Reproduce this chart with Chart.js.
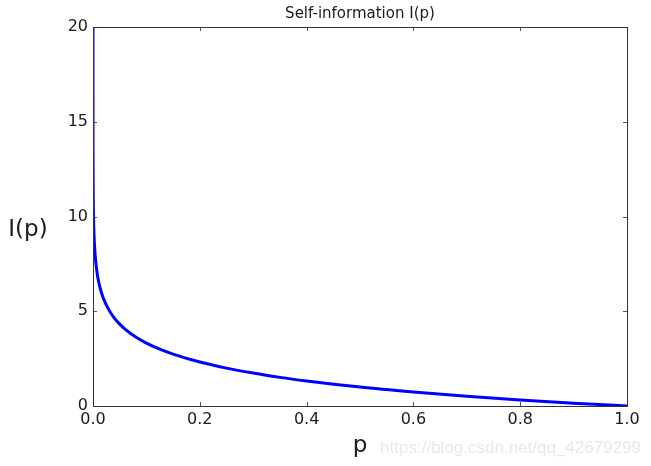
<!DOCTYPE html>
<html>
<head>
<meta charset="utf-8">
<script src="https://cdn.jsdelivr.net/npm/chart.js@4/dist/chart.umd.min.js"></script>
<style>
  html, body { margin: 0; padding: 0; background: #fff; }
  #wrap { width: 651px; height: 466px; }
</style>
</head>
<body>
<div id="wrap"><canvas id="chart" width="651" height="466"></canvas></div>
<script>
// ── Data ──
const pValues = [0.00000095, 0.00001, 0.0001, 0.0005, 0.001, 0.002, 0.003, 0.005, 0.0075, 0.01,
  0.015, 0.02, 0.03, 0.04, 0.05, 0.06, 0.08, 0.1, 0.125, 0.15, 0.2, 0.25, 0.3, 0.35, 0.4,
  0.5, 0.6, 0.7, 0.8, 0.9, 1.0];
const infoValues = [20.0, 16.6, 13.3, 10.97, 9.97, 8.97, 8.38, 7.64, 7.06, 6.64,
  6.06, 5.64, 5.06, 4.64, 4.32, 4.06, 3.64, 3.32, 3.0, 2.74, 2.32, 2.0, 1.74, 1.51, 1.32,
  1.0, 0.74, 0.51, 0.32, 0.15, 0.0];
const xTicks = [0.0, 0.2, 0.4, 0.6, 0.8, 1.0];
const yTicks = [0, 5, 10, 15, 20];

const titleText = 'Self-information I(p)';
const xLabel = 'p';
const yLabel = 'I(p)';
const watermark = 'https://blog.csdn.net/qq_42679299';

const points = pValues.map((p, i) => ({ x: p, y: infoValues[i] }));

// ── Frame, inner ticks and labels (matplotlib classic look) ──
const framePlugin = {
  id: 'frame',
  afterDatasetsDraw(chart) {
    const { ctx, chartArea: a, scales } = chart;
    ctx.save();
    ctx.strokeStyle = '#555';
    ctx.lineWidth = 1;
    ctx.beginPath();
    scales.x.ticks.forEach(t => {
      const x = Math.round(scales.x.getPixelForValue(t.value)) + 0.5;
      ctx.moveTo(x, a.bottom); ctx.lineTo(x, a.bottom - 4);
      ctx.moveTo(x, a.top); ctx.lineTo(x, a.top + 4);
    });
    scales.y.ticks.forEach(t => {
      const y = Math.round(scales.y.getPixelForValue(t.value)) + 0.5;
      ctx.moveTo(a.left, y); ctx.lineTo(a.left + 4, y);
      ctx.moveTo(a.right, y); ctx.lineTo(a.right - 4, y);
    });
    ctx.stroke();
    ctx.strokeStyle = '#333';
    ctx.strokeRect(Math.round(a.left) + 0.5, Math.round(a.top) + 0.5,
      Math.round(a.right - a.left), Math.round(a.bottom - a.top));
    ctx.restore();
  },
  afterDraw(chart) {
    const { ctx, chartArea: a } = chart;
    ctx.save();
    ctx.fillStyle = '#1a1a1a';
    ctx.textAlign = 'center';
    ctx.textBaseline = 'middle';
    ctx.font = '15px "DejaVu Sans"';
    ctx.fillText(titleText, (a.left + a.right) / 2, 14);
    ctx.font = '23px "DejaVu Sans"';
    ctx.fillText(xLabel, (a.left + a.right) / 2, 446);
    ctx.fillText(yLabel, 28, 230);
    ctx.fillStyle = '#e8e8e8';
    ctx.font = '17px "Liberation Sans"';
    ctx.textAlign = 'right';
    ctx.fillText(watermark, 641, 448);
    ctx.restore();
  }
};

new Chart(document.getElementById('chart'), {
  type: 'scatter',
  data: {
    datasets: [{
      data: points,
      showLine: true,
      borderColor: '#0000ff',
      borderWidth: 3,
      pointRadius: 0,
      cubicInterpolationMode: 'monotone',
      fill: false
    }]
  },
  options: {
    responsive: false,
    animation: false,
    layout: { padding: { top: 27, right: 24, left: 0, bottom: 0 } },
    plugins: { legend: { display: false }, tooltip: { enabled: false } },
    scales: {
      x: {
        type: 'linear',
        min: 0, max: 1,
        afterBuildTicks: s => { s.ticks = xTicks.map(v => ({ value: v })); },
        afterFit: s => { s.height = 60; },
        grid: { display: false, drawTicks: false },
        border: { display: false },
        ticks: {
          color: '#1a1a1a',
          padding: 4,
          font: { family: 'DejaVu Sans', size: 16 },
          callback: v => v.toFixed(1)
        }
      },
      y: {
        type: 'linear',
        min: 0, max: 20,
        afterBuildTicks: s => { s.ticks = yTicks.map(v => ({ value: v })); },
        afterFit: s => { s.width = 93; },
        grid: { display: false, drawTicks: false },
        border: { display: false },
        ticks: {
          color: '#1a1a1a',
          padding: 5,
          font: { family: 'DejaVu Sans', size: 16 }
        }
      }
    }
  },
  plugins: [framePlugin]
});
</script>
</body>
</html>
